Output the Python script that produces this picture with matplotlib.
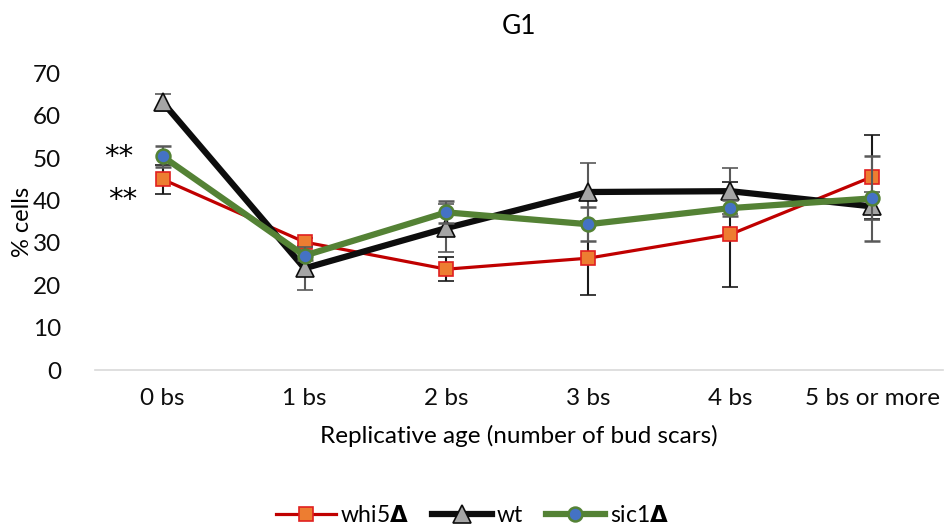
import numpy as np
import matplotlib.pyplot as plt
from matplotlib.lines import Line2D

plt.rcParams['font.family'] = ['Lato', 'DejaVu Sans']

ages = ["0 bs", "1 bs", "2 bs", "3 bs", "4 bs", "5 bs or more"]

whi5 = [45.0, 30.2, 23.8, 26.4, 32.0, 45.6]
whi5_err = [3.4, 1.0, 2.9, 8.7, 12.4, 9.9]

wt = [63.2, 24.0, 33.5, 42.0, 42.2, 38.6]
wt_err = [2.0, 5.0, 5.6, 6.8, 5.4, 3.3]

sic1 = [50.4, 27.0, 37.2, 34.4, 38.2, 40.5]
sic1_err = [2.4, 1.0, 2.6, 4.0, 1.8, 10.0]

x = np.arange(len(ages))

styles = {
    "whi5": dict(color="#C00000", lw=2.3, marker="s", ms=10, mfc="#ED7D31",
                 mec="#E02020", mew=1.2),
    "wt": dict(color="#0d0d0d", lw=4.5, marker="^", ms=13, mfc="#A5A5A5",
               mec="#0d0d0d", mew=1.2),
    "sic1": dict(color="#548235", lw=4.5, marker="o", ms=10, mfc="#4472C4",
                 mec="#548235", mew=1.8),
}

fig, ax = plt.subplots(figsize=(9.45, 5.31), dpi=100)
fig.subplots_adjust(left=0.1, right=0.998, top=0.862, bottom=0.303)

eb = dict(elinewidth=1.5, capsize=6, capthick=1.5)
ax.errorbar(x, whi5, yerr=whi5_err, ecolor="#1a1a1a", zorder=3, **styles["whi5"], **eb)
ax.errorbar(x, wt, yerr=wt_err, ecolor="#595959", zorder=4, **styles["wt"], **eb)
ax.errorbar(x, sic1, yerr=sic1_err, ecolor="#595959", zorder=5, **styles["sic1"], **eb)

# significance marks next to the first group
ax.text(-0.31, 50.3, "**", fontsize=21, ha="center", va="center",
        family="DejaVu Sans")
ax.text(-0.28, 40.2, "**", fontsize=21, ha="center", va="center",
        family="DejaVu Sans")

ax.set_xlim(-0.48, 5.5)
ax.set_ylim(0, 70)
ax.set_yticks(range(0, 71, 10))
ax.set_xticks(x)
ax.set_xticklabels(ages)
ax.tick_params(axis="both", length=0, labelsize=17.5, colors="#0d0d0d")
ax.tick_params(axis="x", pad=13)
ax.tick_params(axis="y", pad=24)
for s in ["top", "right", "left"]:
    ax.spines[s].set_visible(False)
ax.spines["bottom"].set_color("#d9d9d9")
ax.spines["bottom"].set_linewidth(1.2)

ax.set_title("G1", fontsize=19, pad=28)
ax.set_xlabel("Replicative age (number of bud scars)", fontsize=17.5, labelpad=11)
ax.set_ylabel("% cells", fontsize=17)
ax.yaxis.set_label_coords(-0.072, 0.5)

handles = [Line2D([], [], **styles[k]) for k in ["whi5", "wt", "sic1"]]
labels = ["whi5$\\mathbf{\\Delta}$", "wt", "sic1$\\mathbf{\\Delta}$"]
fig.legend(handles, labels, loc="lower center", ncol=3, frameon=False,
           fontsize=16.5, bbox_to_anchor=(0.5, -0.03), handlelength=2.6,
           columnspacing=1.0, handletextpad=0.2)

fig.savefig("out.png", dpi=100)
